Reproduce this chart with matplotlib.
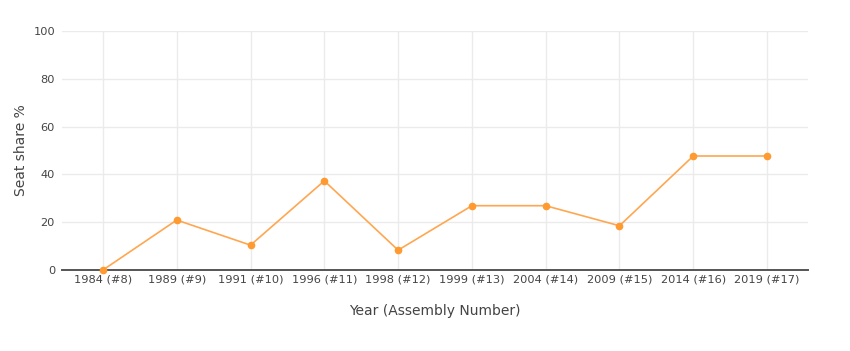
import matplotlib
matplotlib.use("Agg")
import matplotlib.pyplot as plt

# Data
categories = ["1984 (#8)", "1989 (#9)", "1991 (#10)", "1996 (#11)", "1998 (#12)",
              "1999 (#13)", "2004 (#14)", "2009 (#15)", "2014 (#16)", "2019 (#17)"]
seat_share = [0.0, 20.9, 10.4, 37.3, 8.3, 26.9, 26.9, 18.5, 47.7, 47.7]

plt.rcParams["font.family"] = ["DejaVu Sans"]

fig = plt.figure(figsize=(8.5, 3.51), dpi=100)
ax = fig.add_axes([62 / 850, 1 - 270 / 351, (808 - 62) / 850, (270 - 31) / 351])

x = list(range(len(categories)))
ax.plot(x, seat_share, color="#ffa650", linewidth=1.2, zorder=3, clip_on=False)
ax.plot(x, seat_share, linestyle="none", marker="o", markersize=4.5,
        color="#ff9a30", zorder=4, clip_on=False)

ax.set_xlim(-0.555, len(categories) - 1 + 0.555)
ax.set_ylim(0, 100)
ax.set_yticks([0, 20, 40, 60, 80, 100])
ax.set_xticks(x)
ax.set_xticklabels(categories)

ax.grid(True, color="#ebebeb", linewidth=1)
ax.set_axisbelow(True)
for side in ["top", "right", "left"]:
    ax.spines[side].set_visible(False)
ax.spines["bottom"].set_color("#555555")
ax.spines["bottom"].set_linewidth(1.4)
ax.spines["bottom"].set_zorder(2)

ax.tick_params(axis="both", length=0, labelsize=8.2, colors="#444444", pad=5)
ax.tick_params(axis="x", pad=3)

ax.set_xlabel("Year (Assembly Number)", fontsize=10, color="#444444", labelpad=14)
ax.set_ylabel("Seat share %", fontsize=10, color="#444444", labelpad=4)

fig.savefig("out.png", dpi=100, facecolor="white")
